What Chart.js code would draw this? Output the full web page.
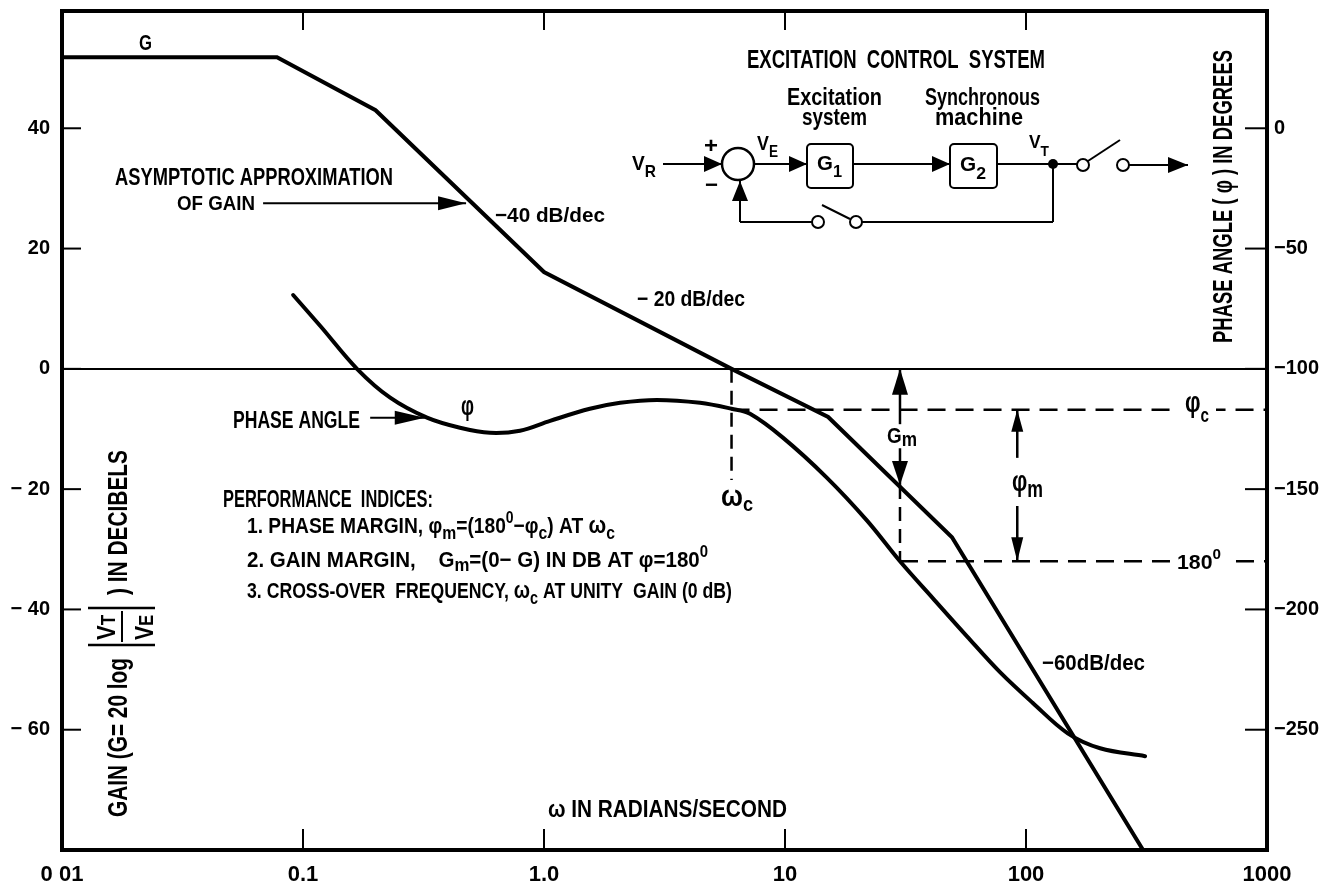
<!DOCTYPE html>
<html><head><meta charset="utf-8">
<script src="https://cdn.jsdelivr.net/npm/chart.js@4.4.0/dist/chart.umd.min.js"></script>
<style>html,body{margin:0;padding:0;background:#fff}canvas{display:block}</style>
</head><body>
<canvas id="c" width="1336" height="887"></canvas>
<script>
// ---- tick values and labels ----
const xTickValues = [0.01, 0.1, 1, 10, 100, 1000];
const xTickLabels = ['0 01', '0.1', '1.0', '10', '100', '1000'];
const gainTickValues = [40, 20, 0, -20, -40, -60];
const gainTickLabels = ['40', '20', '0', '\u2212 20', '\u2212 40', '\u2212 60'];
const phaseTickValues = [0, -50, -100, -150, -200, -250];
const phaseTickLabels = ['0', '\u221250', '\u2212100', '\u2212150', '\u2212200', '\u2212250'];

// ---- asymptotic gain (dB) vs omega (rad/s) ----
const gainOmega = [0.01, 0.078, 0.2, 1.0, 6.0, 15.1, 49.3, 306];
const gainDb    = [51.8, 51.8, 43.0, 16.1, 0, -8.0, -28.0, -80];

// ---- phase angle (degrees) vs omega ----
const phaseOmega = [0.091, 0.118, 0.1675, 0.23, 0.327, 0.448, 0.597, 0.795, 1.06, 1.55, 2.07, 2.94, 4.44, 6.0, 7.16, 9.8, 14.9, 21.9, 30, 41.1, 56.9, 78, 107, 149, 203, 312];
const phaseDeg   = [-69.3, -82.2, -100, -112, -120.3, -124.5, -126.6, -125.7, -121.6, -116.6, -114.1, -112.9, -114.1, -116.6, -118.7, -128.6, -145.2, -163.1, -180, -195.4, -211.2, -226.1, -239.0, -251.5, -257.7, -261.0];

// ---- performance-index markers ----
const omegaC = 6.0;      // cross-over frequency
const phiC = -117;       // phase at omega_c
const omegaGm = 30;      // frequency where phase = -180
const gainAtGm = -19.3;  // gain there
const phase180 = -180;
const omegaPhiM = 92;    // where the phase-margin arrow is drawn

const FONT = '"Liberation Sans Narrow","Liberation Sans",Arial,sans-serif';
const R = (t, s, dy) => ({t, s, dy: dy || 0});
function drawRuns(ctx, x, y, runs, width) {
  ctx.save();
  let total = 0;
  for (const r of runs) { ctx.font = `bold ${r.s}px ${FONT}`; r.w = ctx.measureText(r.t).width; total += r.w; }
  const sx = width ? width / total : 1;
  ctx.translate(x, y); ctx.scale(sx, 1);
  ctx.fillStyle = '#000'; ctx.textBaseline = 'alphabetic'; ctx.textAlign = 'left';
  let cx = 0;
  for (const r of runs) { ctx.font = `bold ${r.s}px ${FONT}`; ctx.fillText(r.t, cx, r.dy); cx += r.w; }
  ctx.restore();
}
function line(ctx, x1, y1, x2, y2) { ctx.beginPath(); ctx.moveTo(x1, y1); ctx.lineTo(x2, y2); ctx.stroke(); }
function head(ctx, tx, ty, fx, fy, len, half) {
  const a = Math.atan2(ty - fy, tx - fx), c = Math.cos(a), s = Math.sin(a);
  ctx.beginPath(); ctx.moveTo(tx, ty);
  ctx.lineTo(tx - len * c + half * s, ty - len * s - half * c);
  ctx.lineTo(tx - len * c - half * s, ty - len * s + half * c);
  ctx.closePath(); ctx.fill();
}
function arrow(ctx, fx, fy, tx, ty, len, half) { line(ctx, fx, fy, tx, ty); head(ctx, tx, ty, fx, fy, len, half); }
function noPad(s) { s.paddingTop = 0; s.paddingBottom = 0; s.paddingLeft = 0; s.paddingRight = 0; }

const annot = {
  id: 'annot',
  beforeDraw(chart) {
    const ctx = chart.ctx; ctx.save(); ctx.fillStyle = '#fff'; ctx.fillRect(0, 0, chart.width, chart.height); ctx.restore();
  },
  afterDraw(chart) {
    const ctx = chart.ctx, a = chart.chartArea, sx = chart.scales.x, sy = chart.scales.y, sp = chart.scales.y2;
    const X = v => sx.getPixelForValue(v), Y = v => sy.getPixelForValue(v), P = v => sp.getPixelForValue(v);
    ctx.save();
    ctx.strokeStyle = '#000'; ctx.fillStyle = '#000'; ctx.lineCap = 'butt';
    // frame
    ctx.lineWidth = 4; ctx.strokeRect(a.left, a.top, a.right - a.left, a.bottom - a.top);
    // inner tick marks
    ctx.lineWidth = 2;
    gainTickValues.forEach(v => line(ctx, a.left, Y(v), a.left + 19, Y(v)));
    phaseTickValues.forEach(v => line(ctx, a.right - 22, P(v), a.right, P(v)));
    xTickValues.slice(1, -1).forEach(v => { line(ctx, X(v), a.bottom, X(v), a.bottom - 21); line(ctx, X(v), a.top, X(v), a.top + 19); });

    // dashed guide lines
    ctx.lineWidth = 2.5;
    ctx.setLineDash([14, 8]); line(ctx, X(omegaC), Y(0), X(omegaC), Y(-18.5));
    ctx.setLineDash([18, 10]);
    line(ctx, X(omegaC), P(phiC), a.right, P(phiC));
    line(ctx, X(omegaGm), P(phase180), a.right, P(phase180));
    ctx.setLineDash([14, 8]); line(ctx, X(omegaGm), Y(gainAtGm), X(omegaGm), P(phase180));
    ctx.setLineDash([]);

    // Gm arrows
    ctx.lineWidth = 2.5;
    arrow(ctx, X(omegaGm), Y(-9.2), X(omegaGm), Y(0), 26, 8);
    arrow(ctx, X(omegaGm), Y(-13.2), X(omegaGm), Y(gainAtGm), 24, 8);
    drawRuns(ctx, 887, 443, [R('G', 22), R('m', 20, 3)], 30);
    // phi_m arrows
    arrow(ctx, X(omegaPhiM), P(-137), X(omegaPhiM), P(phiC), 22, 6);
    arrow(ctx, X(omegaPhiM), P(-157), X(omegaPhiM), P(phase180), 24, 6);
    drawRuns(ctx, 1012, 491, [R('\u03c6', 29), R('m', 24, 6)], 31);
    // phi_c label with gap
    ctx.fillStyle = '#fff'; ctx.fillRect(1178, 398, 38, 22); ctx.fillStyle = '#000';
    drawRuns(ctx, 1185, 412, [R('\u03c6', 30), R('c', 21, 10)], 24);
    // 180 label
    ctx.fillStyle = '#fff'; ctx.fillRect(1170, 550, 56, 22); ctx.fillStyle = '#000';
    drawRuns(ctx, 1177, 569, [R('180', 21), R('0', 15, -10)], 44);
    // omega_c label
    drawRuns(ctx, 721, 506, [R('\u03c9', 30), R('c', 21, 5)], 32);

    // gain labels & arrows
    drawRuns(ctx, 139, 50, [R('G', 22)], 13);
    drawRuns(ctx, 115, 185, [R('ASYMPTOTIC APPROXIMATION', 23.5)], 278);
    drawRuns(ctx, 177, 210, [R('OF GAIN', 21)], 78);
    ctx.lineWidth = 2; arrow(ctx, X(0.0683), Y(27.55), X(0.475), Y(27.55), 28, 7);
    drawRuns(ctx, 495, 222, [R('\u221240 dB/dec', 21)], 110);
    drawRuns(ctx, 637, 306, [R('\u2212 20 dB/dec', 22)], 108);
    drawRuns(ctx, 1042, 670, [R('\u221260dB/dec', 22)], 103);
    // phase labels
    drawRuns(ctx, 233, 428, [R('PHASE ANGLE', 24)], 127);
    ctx.lineWidth = 2; arrow(ctx, X(0.19), Y(-8.13), X(0.32), Y(-8.13), 30, 7);
    drawRuns(ctx, 461, 415, [R('\u03c6', 28)], 13);

    // performance indices
    drawRuns(ctx, 223, 507, [R('PERFORMANCE  INDICES:', 23.5)], 210);
    drawRuns(ctx, 247, 533, [R('1. PHASE MARGIN, ', 22), R('\u03c6', 22), R('m', 18, 6), R('=(180', 22), R('0', 16, -10), R('\u2212', 22), R('\u03c6', 22), R('c', 18, 6), R(') AT ', 22), R('\u03c9', 24), R('c', 18, 6)], 368);
    drawRuns(ctx, 247, 567, [R('2. GAIN MARGIN,    G', 22), R('m', 18, 4), R('=(0\u2212 G) IN DB AT ', 22), R('\u03c6', 22), R('=180', 22), R('0', 16, -10)], 461);
    drawRuns(ctx, 247, 598, [R('3. CROSS-OVER  FREQUENCY, ', 22), R('\u03c9', 24), R('c', 18, 6), R(' AT UNITY  GAIN (0 dB)', 22)], 485);
    // x-axis title
    drawRuns(ctx, 548, 817, [R('\u03c9 IN RADIANS/SECOND', 23.5)], 239);

    // left axis title (rotated)
    ctx.save(); ctx.translate(127, 817); ctx.rotate(-Math.PI / 2);
    drawRuns(ctx, 0, 0, [R('GAIN (G= 20 log', 27)], 159);
    ctx.lineWidth = 2.5;
    line(ctx, 172, -39, 172, 28); line(ctx, 209, -39, 209, 28);
    ctx.lineWidth = 2; line(ctx, 175, -5, 206, -5);
    drawRuns(ctx, 177, -12, [R('V', 26), R('T', 20)], 25);
    drawRuns(ctx, 177, 26, [R('V', 26), R('E', 20)], 25);
    drawRuns(ctx, 222, 0, [R(') IN DECIBELS', 27)], 145);
    ctx.restore();
    // right axis title (rotated)
    ctx.save(); ctx.translate(1232, 343); ctx.rotate(-Math.PI / 2);
    drawRuns(ctx, 0, 0, [R('PHASE ANGLE ( \u03c6 ) IN DEGREES', 27)], 293);
    ctx.restore();

    // ---- block diagram ----
    drawRuns(ctx, 747, 68, [R('EXCITATION  CONTROL  SYSTEM', 25)], 298);
    drawRuns(ctx, 787, 105, [R('Excitation', 23)], 95);
    drawRuns(ctx, 802, 125, [R('system', 23)], 65);
    drawRuns(ctx, 925, 105, [R('Synchronous', 23)], 115);
    drawRuns(ctx, 935, 125, [R('machine', 23)], 88);
    ctx.lineWidth = 2;
    drawRuns(ctx, 632, 170, [R('V', 21), R('R', 17, 7)], 24);
    arrow(ctx, 663, 164, 722, 164, 18, 8);
    drawRuns(ctx, 704, 153, [R('+', 22)], 14);
    drawRuns(ctx, 705, 192, [R('\u2212', 22)], 13);
    ctx.lineWidth = 2.5; ctx.beginPath(); ctx.arc(738, 164, 16, 0, Math.PI * 2); ctx.stroke();
    ctx.lineWidth = 2;
    drawRuns(ctx, 757, 150, [R('V', 21), R('E', 16, 7)], 21);
    arrow(ctx, 754, 164, 807, 164, 18, 8);
    ctx.beginPath(); ctx.roundRect(807, 144, 46, 44, 4); ctx.stroke();
    drawRuns(ctx, 817, 170, [R('G', 20), R('1', 16, 7)], 25);
    arrow(ctx, 853, 164, 950, 164, 18, 8);
    ctx.beginPath(); ctx.roundRect(950, 144, 47, 44, 4); ctx.stroke();
    drawRuns(ctx, 960, 171, [R('G', 20), R('2', 17, 8)], 26);
    line(ctx, 997, 164, 1077, 164);
    drawRuns(ctx, 1029, 148, [R('V', 19), R('T', 15, 8)], 20);
    ctx.beginPath(); ctx.arc(1053, 164, 5, 0, Math.PI * 2); ctx.fill();
    ctx.beginPath(); ctx.arc(1083, 165, 6, 0, Math.PI * 2); ctx.stroke();
    line(ctx, 1088, 161, 1120, 140);
    ctx.beginPath(); ctx.arc(1123, 165, 6, 0, Math.PI * 2); ctx.stroke();
    arrow(ctx, 1129, 165, 1188, 165, 20, 8);
    // feedback path
    line(ctx, 1053, 164, 1053, 222); line(ctx, 1053, 222, 862, 222);
    ctx.beginPath(); ctx.arc(856, 222, 6, 0, Math.PI * 2); ctx.stroke();
    line(ctx, 850, 219, 822, 205);
    ctx.beginPath(); ctx.arc(818, 222, 6, 0, Math.PI * 2); ctx.stroke();
    line(ctx, 812, 222, 740, 222);
    arrow(ctx, 740, 222, 740, 181, 20, 8);
    ctx.restore();
  }
};

const tickFont = {family: '"Liberation Sans",Arial,sans-serif', size: 20, weight: 'bold'};
new Chart(document.getElementById('c'), {
  type: 'line',
  data: {
    datasets: [
      {label: 'G', data: gainOmega.map((w, i) => ({x: w, y: gainDb[i]})), yAxisID: 'y',
       borderColor: '#000', borderWidth: 4, pointRadius: 0, tension: 0, fill: false},
      {label: 'phase', data: phaseOmega.map((w, i) => ({x: w, y: phaseDeg[i]})), yAxisID: 'y2',
       borderColor: '#000', borderWidth: 4, pointRadius: 0, tension: 0.35, fill: false,
       borderJoinStyle: 'round', borderCapStyle: 'round'}
    ]
  },
  options: {
    responsive: false, animation: false, devicePixelRatio: 1,
    layout: {padding: {top: 11, left: 0, right: 0, bottom: 0}},
    plugins: {legend: {display: false}, tooltip: {enabled: false}},
    scales: {
      x: {type: 'logarithmic', position: 'bottom', min: 0.01, max: 1000,
          afterBuildTicks: s => { s.ticks = xTickValues.map(v => ({value: v})); },
          afterFit: s => { s.height = 37; noPad(s); },
          ticks: {callback: (v, i) => xTickLabels[i], autoSkip: false, maxRotation: 0, minRotation: 0,
                  color: '#000', font: {family: tickFont.family, size: 22, weight: 'bold'}, padding: 12},
          grid: {display: false, drawTicks: false}, border: {display: false}},
      y: {type: 'linear', position: 'left', min: -80, max: 59.5,
          afterBuildTicks: s => { s.ticks = gainTickValues.map(v => ({value: v})); },
          afterFit: s => { s.width = 62; noPad(s); },
          ticks: {callback: (v, i) => gainTickLabels[i], color: '#000', font: tickFont, padding: 12},
          grid: {drawTicks: false, lineWidth: 2, color: c => (c.tick && c.tick.value === 0) ? '#000' : 'rgba(0,0,0,0)'},
          border: {display: false}},
      y2: {type: 'linear', position: 'right', min: -300, max: 48.75,
          afterBuildTicks: s => { s.ticks = phaseTickValues.map(v => ({value: v})); },
          afterFit: s => { s.width = 69; noPad(s); },
          ticks: {callback: (v, i) => phaseTickLabels[i], color: '#000', font: tickFont, padding: 7},
          grid: {display: false, drawTicks: false}, border: {display: false}}
    }
  },
  plugins: [annot]
});
</script>
</body></html>
